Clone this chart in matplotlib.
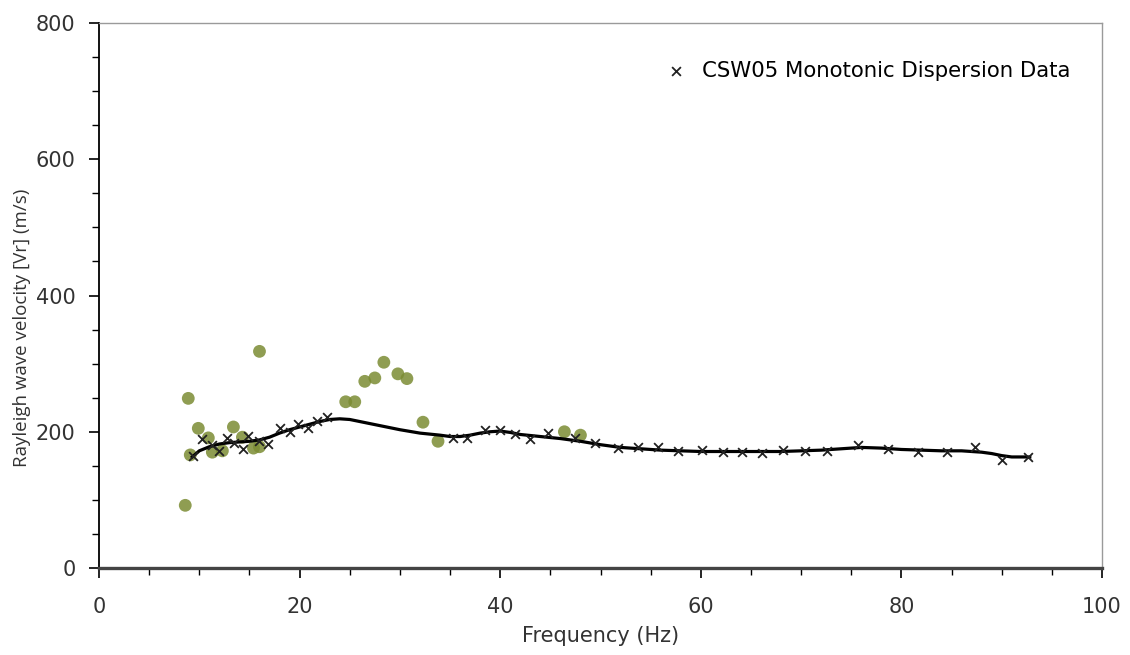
import matplotlib
matplotlib.use("Agg")
import matplotlib.pyplot as plt
from matplotlib.ticker import MultipleLocator

plt.rcParams['font.family'] = ['DejaVu Sans']

# raw picked dispersion points (all modes)
raw_freq = [8.6, 8.9, 9.1, 9.9, 10.9, 11.3, 12.3, 13.4, 14.3, 15.4, 16.0, 16.0,
            24.6, 25.5, 26.5, 27.5, 28.4, 29.8, 30.7, 32.3, 33.8, 46.4, 48.0]
raw_vel = [92, 249, 166, 205, 191, 170, 172, 207, 192, 176, 178, 318,
           244, 244, 274, 279, 302, 285, 278, 214, 186, 200, 195]

# monotonic dispersion data (CSW05)
mono_freq = [9.4, 10.3, 11.3, 12.0, 12.8, 13.5, 14.4, 14.9, 16.0, 16.8, 18.0, 19.0,
             19.8, 20.8, 21.7, 22.7, 35.3, 36.7, 38.5, 40.0, 41.5, 43.0, 44.8, 47.5,
             49.5, 51.7, 53.7, 55.7, 57.7, 60.1, 62.2, 64.1, 66.1, 68.2, 70.4, 72.6,
             75.7, 78.7, 81.7, 84.5, 87.3, 90.0, 92.6]
mono_vel = [165, 190, 180, 172, 191, 183, 175, 194, 186, 182, 205, 200,
            211, 205, 216, 222, 191, 191, 203, 203, 196, 190, 198, 191,
            183, 176, 178, 177, 172, 173, 171, 171, 169, 173, 172, 172,
            181, 175, 170, 170, 177, 158, 163]

# fitted dispersion curve
fit_freq = [9.3, 10, 11, 12, 13, 14, 15, 16, 17, 18, 19, 20, 21, 22, 23, 24, 25, 26,
            28, 30, 32, 34, 35, 36, 37, 38, 39, 40, 41, 42, 44, 46, 48, 50, 52, 54,
            56, 58, 60, 62, 64, 66, 68, 70, 72, 74, 76, 78, 80, 82, 84, 86, 88, 89,
            90, 91, 92.8]
fit_vel = [163, 172, 178, 182, 184, 185, 186, 188, 192, 198, 203, 207, 211, 215, 218,
           219, 218, 215, 209, 203, 198, 195, 193, 193, 195, 198, 200, 201, 199, 196,
           193, 190, 186, 181, 177, 175, 173, 172, 171, 171, 171, 171, 171, 172, 173,
           175, 177, 176, 174, 173, 172, 172, 170, 168, 165, 163, 163]

W, H = 1130, 655
fig = plt.figure(figsize=(W / 100, H / 100), dpi=100)
ax = fig.add_axes([99 / W, 1 - 568 / H, 1003 / W, 545 / H])

ax.scatter(raw_freq, raw_vel, s=85, color='#7b8c34', alpha=0.85,
           edgecolors='none', zorder=2)
ax.plot(fit_freq, fit_vel, color='black', lw=2.3, zorder=3)
ax.scatter(mono_freq, mono_vel, marker='x', s=40, color='#222222', lw=1.3,
           zorder=4, label='CSW05 Monotonic Dispersion Data')

ax.set_xlim(0, 100)
ax.set_ylim(0, 800)
ax.xaxis.set_major_locator(MultipleLocator(20))
ax.xaxis.set_minor_locator(MultipleLocator(5))
ax.yaxis.set_major_locator(MultipleLocator(200))
ax.yaxis.set_minor_locator(MultipleLocator(50))
ax.tick_params(which='major', length=7, width=1.2, labelsize=15,
               labelcolor='#333333')
ax.tick_params(which='minor', length=5, width=1.0)
ax.tick_params(axis='x', which='major', pad=14)
ax.tick_params(axis='y', which='major', pad=10)

ax.set_xlabel('Frequency (Hz)', fontsize=15, color='#333333')
ax.xaxis.set_label_coords(0.5, (568 - 626) / 545)
ax.set_ylabel('Rayleigh wave velocity [Vr] (m/s)', fontsize=13.5,
              color='#333333', family='Open Sans')
ax.yaxis.set_label_coords((31 - 99) / 1003, (568 - 328) / 545)

ax.spines['left'].set_linewidth(1.3)
ax.spines['bottom'].set_linewidth(2.4)
ax.spines['bottom'].set_color('#444444')
for side in ('top', 'right'):
    ax.spines[side].set_color('#9a9a9a')
    ax.spines[side].set_linewidth(1.0)

leg = ax.legend(loc='center right', frameon=False, fontsize=15.3,
                handlelength=1.0, handletextpad=0.7, borderpad=0,
                borderaxespad=0, bbox_to_anchor=(1070 / W, 1 - 71 / H),
                bbox_transform=fig.transFigure)

fig.savefig('out.png', dpi=100)
